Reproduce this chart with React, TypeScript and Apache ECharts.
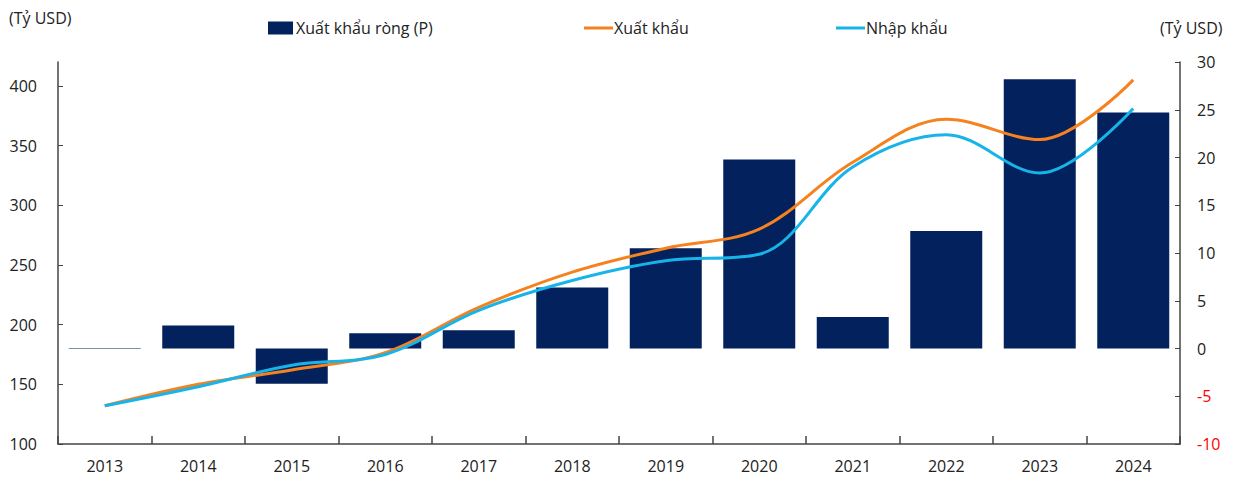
import React, { useEffect, useRef } from "react";
import * as echarts from "echarts";

const years = ["2013", "2014", "2015", "2016", "2017", "2018", "2019", "2020", "2021", "2022", "2023", "2024"];
const netExports = [0.05, 2.4, -3.7, 1.6, 1.9, 6.4, 10.5, 19.8, 3.3, 12.3, 28.2, 24.7];
const exportsVal = [132, 150, 162, 176.5, 214.5, 244, 264, 280, 336, 372, 355, 405];
const importsVal = [132, 148, 166, 175, 212, 237, 253.5, 259, 332, 359, 327, 381];

const NAVY = "#03215d";
const ORANGE = "#f5821f";
const BLUE = "#17b4ea";
const FONT = "Open Sans";
const TXT = "#222";

export default function App() {
  const ref = useRef<HTMLDivElement>(null);
  useEffect(() => {
    const chart = echarts.init(ref.current!, null, { renderer: "svg" });
    chart.setOption({
      animation: false,
      textStyle: { fontFamily: FONT },
      grid: { left: 58, right: 63, top: 62, bottom: 44, containLabel: false },
      legend: [
        {
          left: 268, top: 20, padding: 0, itemWidth: 25, itemHeight: 13, itemGap: 0,
          textStyle: { fontFamily: FONT, fontSize: 16, color: TXT, padding: [0, 0, 0, -2] },
          data: [{ name: "Xuất khẩu ròng (P)", icon: "rect" }],
        },
        {
          left: 584, top: 20, padding: 0, itemWidth: 29, itemHeight: 3,
          textStyle: { fontFamily: FONT, fontSize: 16, color: TXT, padding: [0, 0, 0, -4] },
          data: [{ name: "Xuất khẩu", icon: "rect" }],
        },
        {
          left: 836, top: 20, padding: 0, itemWidth: 29, itemHeight: 3,
          textStyle: { fontFamily: FONT, fontSize: 16, color: TXT, padding: [0, 0, 0, -4] },
          data: [{ name: "Nhập khẩu", icon: "rect" }],
        },
      ],
      graphic: [
        { type: "text", left: 9, top: 10, style: { text: "(Tỷ USD)", font: `16px "${FONT}"`, fill: TXT } },
        { type: "text", left: 1160, top: 20, style: { text: "(Tỷ USD)", font: `16px "${FONT}"`, fill: TXT } },
      ],
      xAxis: {
        type: "category",
        data: years,
        boundaryGap: true,
        axisLine: { show: true, onZero: false, lineStyle: { color: "#444", width: 1.5 } },
        axisTick: { show: true, interval: 0, inside: true, length: 8, alignWithLabel: false, lineStyle: { color: "#444", width: 1.5 } },
        axisLabel: { color: TXT, fontSize: 16, fontFamily: FONT, margin: 14, interval: 0 },
      },
      yAxis: [
        {
          type: "value",
          min: 100,
          max: 420,
          interval: 50,
          position: "left",
          axisLine: { show: true, lineStyle: { color: "#444", width: 1.5 } },
          axisTick: { show: true, inside: true, length: 5, lineStyle: { color: "#444" } },
          axisLabel: { color: TXT, fontSize: 16, fontFamily: FONT, margin: 21, showMaxLabel: false },
          splitLine: { show: false },
        },
        {
          type: "value",
          min: -10,
          max: 30,
          interval: 5,
          position: "right",
          axisLine: { show: true, lineStyle: { color: "#444", width: 1.5 } },
          axisTick: { show: true, inside: true, length: 5, lineStyle: { color: "#444" } },
          axisLabel: {
            fontSize: 16,
            fontFamily: FONT,
            margin: 17,
            color: (v: any) => (Number(v) < 0 ? "#ff0000" : TXT),
          },
          splitLine: { show: false },
        },
      ],
      series: [
        {
          name: "Xuất khẩu ròng (P)",
          type: "bar",
          yAxisIndex: 1,
          data: netExports,
          barWidth: "77%",
          itemStyle: { color: NAVY },
        },
        {
          name: "Xuất khẩu",
          type: "line",
          yAxisIndex: 0,
          data: exportsVal,
          smooth: 0.35,
          symbol: "none",
          lineStyle: { color: ORANGE, width: 3 },
          itemStyle: { color: ORANGE },
        },
        {
          name: "Nhập khẩu",
          type: "line",
          yAxisIndex: 0,
          data: importsVal,
          smooth: 0.35,
          symbol: "none",
          lineStyle: { color: BLUE, width: 3 },
          itemStyle: { color: BLUE },
        },
      ],
    });
    return () => chart.dispose();
  }, []);
  return <div ref={ref} style={{ width: 1243, height: 488, position: "absolute", left: 0, top: 0 }} />;
}
